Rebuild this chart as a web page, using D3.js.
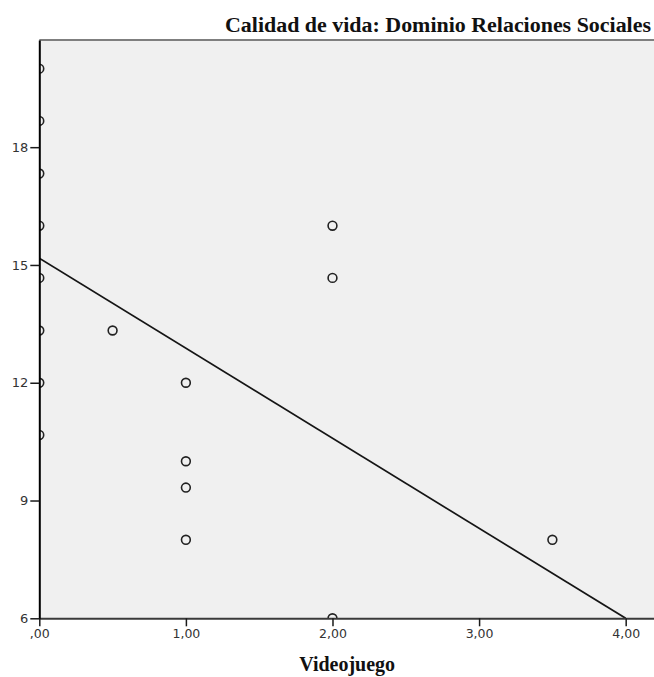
<!DOCTYPE html>
<html>
<head>
<meta charset="utf-8">
<script src="https://cdn.jsdelivr.net/npm/d3@7"></script>
<style>
  html, body { margin: 0; padding: 0; background: #ffffff; }
  svg { display: block; }
</style>
</head>
<body>
<svg id="chart" width="654" height="677"></svg>
<script>
// Puntos: horas de videojuego vs. puntuación del dominio Relaciones Sociales
const videojuego = [0, 0, 0, 0, 0, 0, 0, 0, 0.5, 1, 1, 1, 1, 2, 2, 2, 3.5];
const relacionesSociales = [20, 18.67, 17.33, 16, 14.67, 13.33, 12, 10.67, 13.33, 12, 10, 9.33, 8, 16, 14.67, 6, 8];

// Recta de ajuste lineal (extremos)
const ajusteX = [0, 4];
const ajusteY = [15.17, 6.0];

// Marcas de los ejes
const xTicks = [0, 1, 2, 3, 4];
const xTickLabels = [",00", "1,00", "2,00", "3,00", "4,00"];
const yTicks = [6, 9, 12, 15, 18];

const titulo = "Calidad de vida: Dominio Relaciones Sociales";
const tituloX = "Videojuego";

const svg = d3.select("#chart");

const plot = { left: 39.3, top: 40, bottom: 618.3, right: 655 };

const x = d3.scaleLinear().domain([0, 4.2]).range([plot.left, plot.right]);
const y = d3.scaleLinear().domain([6, 20.73]).range([plot.bottom, plot.top]);

// Fondo del área de trazado
svg.append("rect")
  .attr("x", plot.left).attr("y", plot.top)
  .attr("width", plot.right - plot.left).attr("height", plot.bottom - plot.top)
  .attr("fill", "#f0f0f0");

svg.append("clipPath").attr("id", "clip")
  .append("rect")
  .attr("x", plot.left).attr("y", plot.top)
  .attr("width", plot.right - plot.left).attr("height", plot.bottom - plot.top);

const inner = svg.append("g").attr("clip-path", "url(#clip)");

// Recta de ajuste
inner.append("path")
  .datum(d3.zip(ajusteX, ajusteY))
  .attr("fill", "none")
  .attr("stroke", "#151515")
  .attr("stroke-width", 1.7)
  .attr("d", d3.line().x(d => x(d[0])).y(d => y(d[1])));

// Puntos
inner.selectAll("circle")
  .data(d3.zip(videojuego, relacionesSociales))
  .join("circle")
  .attr("cx", d => x(d[0]))
  .attr("cy", d => y(d[1]))
  .attr("r", 4.4)
  .attr("fill", "none")
  .attr("stroke", "#222")
  .attr("stroke-width", 1.6);

// Borde superior
svg.append("line")
  .attr("x1", plot.left).attr("x2", plot.right)
  .attr("y1", plot.top).attr("y2", plot.top)
  .attr("stroke", "#7f7f7f").attr("stroke-width", 2);

// Eje X
const xAxis = d3.axisBottom(x)
  .tickValues(xTicks)
  .tickFormat((d, i) => xTickLabels[i])
  .tickSize(8)
  .tickPadding(3)
  .tickSizeOuter(0);

const gx = svg.append("g")
  .attr("transform", `translate(0,${plot.bottom})`)
  .call(xAxis);
gx.select(".domain").attr("stroke", "#3a3a3a").attr("stroke-width", 2);
gx.selectAll(".tick line").attr("stroke", "#1a1a1a").attr("stroke-width", 1.5);
gx.selectAll(".tick text")
  .attr("fill", "#333")
  .style("font-family", "'DejaVu Sans', sans-serif")
  .style("font-size", "12.5px");

// Eje Y
const yAxis = d3.axisLeft(y)
  .tickValues(yTicks)
  .tickFormat(d3.format("d"))
  .tickSize(9)
  .tickPadding(2)
  .tickSizeOuter(0);

const gy = svg.append("g")
  .attr("transform", `translate(${plot.left},0)`)
  .call(yAxis);
gy.select(".domain").attr("stroke", "#000").attr("stroke-width", 2);
gy.selectAll(".tick line").attr("stroke", "#1a1a1a").attr("stroke-width", 1.5);
gy.selectAll(".tick text")
  .attr("fill", "#333")
  .style("font-family", "'DejaVu Sans', sans-serif")
  .style("font-size", "13px");

// Títulos
svg.append("text")
  .attr("x", 651).attr("y", 32)
  .attr("text-anchor", "end")
  .style("font-family", "'Liberation Serif', 'Times New Roman', serif")
  .style("font-weight", "bold")
  .style("font-size", "20px")
  .attr("textLength", 426)
  .attr("lengthAdjust", "spacingAndGlyphs")
  .attr("fill", "#111")
  .text(titulo);

svg.append("text")
  .attr("x", (plot.left + plot.right) / 2).attr("y", 671)
  .attr("text-anchor", "middle")
  .style("font-family", "'Liberation Serif', 'Times New Roman', serif")
  .style("font-weight", "bold")
  .style("font-size", "20px")
  .attr("fill", "#111")
  .text(tituloX);
</script>
</body>
</html>
